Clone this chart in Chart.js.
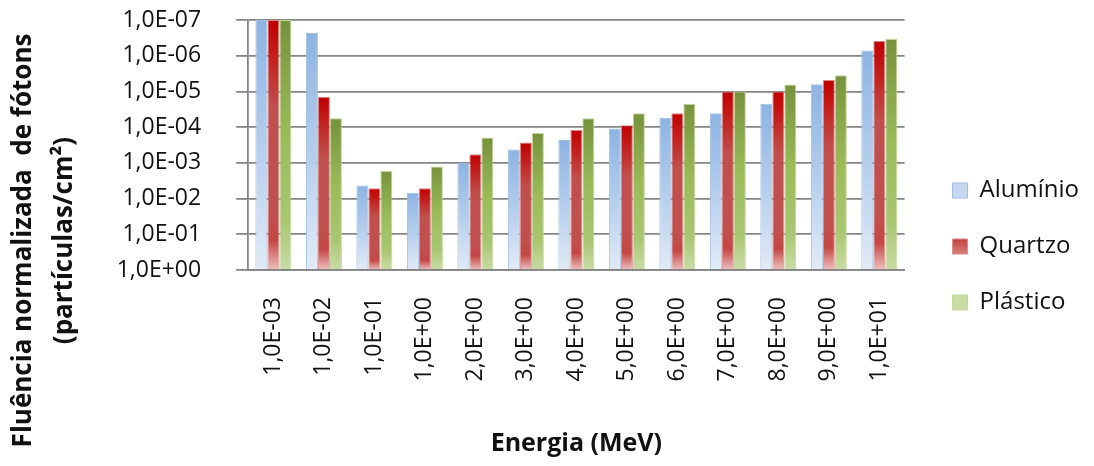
<!DOCTYPE html>
<html lang="pt">
<head>
<meta charset="utf-8">
<title>Fluência normalizada de fótons</title>
<script src="https://cdn.jsdelivr.net/npm/chart.js@4.4.1/dist/chart.umd.min.js"></script>
<style>
  html, body { margin: 0; padding: 0; background: #ffffff; }
  #wrap { width: 1094px; height: 466px; }
</style>
</head>
<body>
<div id="wrap"><canvas id="chart" width="1094" height="466"></canvas></div>
<script>
// Energy bins (MeV)
const energias = ['1,0E-03', '1,0E-02', '1,0E-01', '1,0E+00', '2,0E+00', '3,0E+00', '4,0E+00',
                  '5,0E+00', '6,0E+00', '7,0E+00', '8,0E+00', '9,0E+00', '1,0E+01'];

// Normalized photon fluence per material (partículas/cm²)
const aluminio = [1.0e-7, 2.3e-7, 4.3e-3, 6.9e-3, 1.0e-3, 4.2e-4, 2.3e-4, 1.1e-4, 5.5e-5, 4.1e-5, 2.2e-5, 6.3e-6, 7.1e-7];
const quartzo  = [1.0e-7, 1.4e-5, 5.1e-3, 5.1e-3, 5.7e-4, 2.7e-4, 1.2e-4, 8.9e-5, 4.1e-5, 1.0e-5, 1.0e-5, 4.8e-6, 3.9e-7];
const plastico = [1.0e-7, 5.6e-5, 1.7e-3, 1.26e-3, 1.95e-4, 1.45e-4, 5.6e-5, 4.1e-5, 2.2e-5, 1.0e-5, 6.4e-6, 3.5e-6, 3.4e-7];

// Value axis: decades and their labels
const yTicks = [1e-7, 1e-6, 1e-5, 1e-4, 1e-3, 1e-2, 1e-1, 1];
const yTickLabels = ['1,0E-07', '1,0E-06', '1,0E-05', '1,0E-04', '1,0E-03', '1,0E-02', '1,0E-01', '1,0E+00'];

Chart.defaults.font.family = "'Open Sans', sans-serif";
Chart.defaults.color = '#111111';

// Vertical gradient spanning each bar from its top down to the axis base
function barFill(stops, solid) {
  return (ctx) => {
    const chart = ctx.chart;
    const y = chart.scales && chart.scales.y;
    if (ctx.type !== 'data' || !chart.chartArea || !y) return solid;
    const top = y.getPixelForValue(ctx.raw);
    const bottom = y.getPixelForValue(1);
    if (!isFinite(top) || !isFinite(bottom) || bottom - top < 1) return solid;
    const g = chart.ctx.createLinearGradient(0, top, 0, bottom);
    stops.forEach(([o, c]) => g.addColorStop(o, c));
    return g;
  };
}

const blueStops  = [[0, '#8DB3E2'], [0.5, '#B4CDEC'], [1, '#E2EBF7']];
const redStops   = [[0, '#C00000'], [0.12, '#C21A18'], [0.35, '#C0504D'], [0.78, '#C0504D'],
                    [0.88, '#C44644'], [1, '#EDC0BF']];
const greenStops = [[0, '#76923C'], [0.45, '#9BBB59'], [0.8, '#A9C672'], [1, '#C9DCA5']];

// Nudges the legend column into place beside the plot
const legendNudge = {
  id: 'legendNudge',
  afterLayout(chart) {
    const lg = chart.legend;
    if (!lg) return;
    lg.left += 16; lg.right += 16;
    lg.top += 6; lg.bottom += 6;
  }
};

const gridGray = '#858585';

new Chart(document.getElementById('chart'), {
  type: 'bar',
  data: {
    labels: energias,
    datasets: [
      { label: 'Alumínio', data: aluminio, base: 1,
        backgroundColor: barFill(blueStops, '#C6D9F1'), borderColor: '#9FBDE3', borderWidth: 1 },
      { label: 'Quartzo', data: quartzo, base: 1,
        backgroundColor: barFill(redStops, '#CF4A47'), borderColor: '#D98A88', borderWidth: 1 },
      { label: 'Plástico', data: plastico, base: 1,
        backgroundColor: barFill(greenStops, '#9BBB59'), borderColor: '#C3D69B', borderWidth: 1 }
    ]
  },
  plugins: [legendNudge],
  options: {
    responsive: false,
    animation: false,
    layout: { padding: { left: 0, top: 20, right: 21, bottom: 5 } },
    datasets: { bar: { categoryPercentage: 0.713, barPercentage: 1.0 } },
    scales: {
      x: {
        type: 'category',
        offset: true,
        grid: { display: false, drawTicks: false },
        border: { display: true, color: gridGray, width: 1.8 },
        ticks: {
          autoSkip: false, minRotation: 90, maxRotation: 90, padding: 27,
          font: { size: 23 }, color: '#111111'
        },
        title: {
          display: true, text: 'Energia (MeV)',
          font: { size: 25, weight: 'bold' }, color: '#111111',
          padding: { top: 4, bottom: 2 }
        },
        afterFit(scale) { scale.height = 191; }
      },
      y: {
        type: 'logarithmic',
        reverse: true,
        min: 1e-7,
        max: 1,
        grid: { color: gridGray, lineWidth: 1.8, drawTicks: true, tickLength: 12 },
        border: { display: true, color: gridGray, width: 1.8 },
        ticks: {
          padding: 35, font: { size: 23 }, color: '#111111',
          callback: (value, index) => yTickLabels[index]
        },
        afterBuildTicks(scale) { scale.ticks = yTicks.map(v => ({ value: v })); },
        afterFit(scale) {
          scale.width = 156;
          scale.paddingTop = 0;
          scale.paddingBottom = 0;
        }
      }
    },
    plugins: {
      title: {
        display: true,
        position: 'left',
        text: ['Fluência normalizada  de fótons', '(partículas/cm²)'],
        font: { size: 26, weight: 'bold', lineHeight: 1.58 },
        color: '#111111',
        padding: { top: 3, bottom: 7 }
      },
      legend: {
        position: 'right',
        labels: {
          boxWidth: 15, boxHeight: 15, padding: 32,
          font: { size: 24 }, color: '#111111'
        }
      },
      tooltip: { enabled: false }
    }
  }
});
</script>
</body>
</html>
